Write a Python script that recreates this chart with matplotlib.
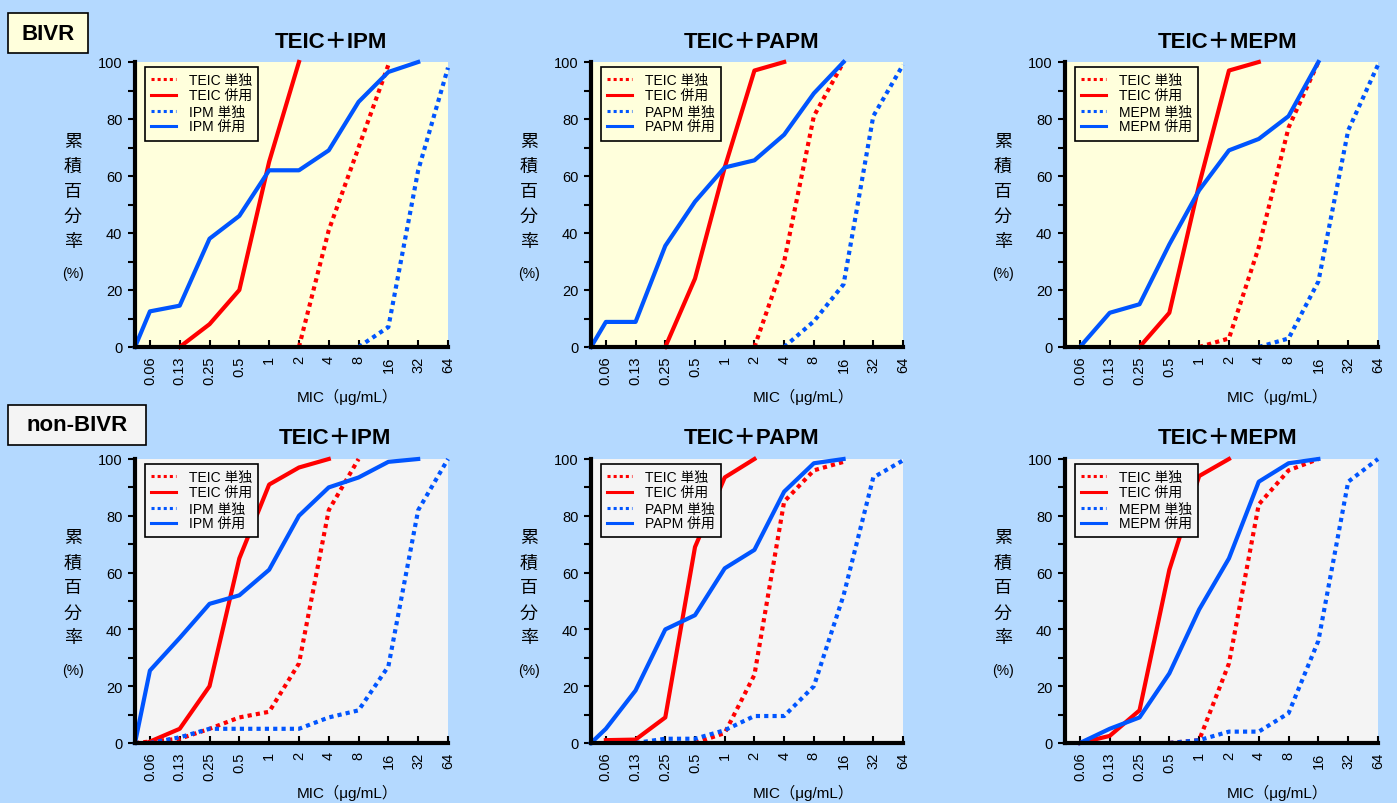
import matplotlib
matplotlib.use("Agg")
import matplotlib.pyplot as plt
from matplotlib.patches import Rectangle
from matplotlib.ticker import MultipleLocator
import numpy as np

plt.rcParams['font.family'] = ['Liberation Sans', 'Noto Sans CJK JP', 'DejaVu Sans']

# x categories: first point is the unlabeled origin, then MIC steps
mic_labels = ['0.06', '0.13', '0.25', '0.5', '1', '2', '4', '8', '16', '32', '64']
_ = None

# --- BIVR ---
bivr_ipm_teic_alone = [_, _, _, _, _, _, 0, 41, 70, 99, _, _]
bivr_ipm_teic_combo = [_, _, 0, 8, 20, 65, 100, _, _, _, _, _]
bivr_ipm_drug_alone = [_, _, _, _, _, _, _, _, 0, 7, 62, 98]
bivr_ipm_drug_combo = [0, 12.5, 14.5, 38, 46, 62, 62, 69, 86, 96.5, 100, _]

bivr_papm_teic_alone = [_, _, _, _, _, _, 0, 30, 81, 100, _, _]
bivr_papm_teic_combo = [_, _, _, 0, 24, 63, 97, 100, _, _, _, _]
bivr_papm_drug_alone = [_, _, _, _, _, _, _, 0, 9, 22, 81, 99]
bivr_papm_drug_combo = [0, 8.8, 8.8, 35.5, 51, 63, 65.5, 74.5, 89, 100, _, _]

bivr_mepm_teic_alone = [_, _, _, _, _, 0, 3, 35, 77, 100, _, _]
bivr_mepm_teic_combo = [_, _, _, 0, 12, 57, 97, 100, _, _, _, _]
bivr_mepm_drug_alone = [_, _, _, _, _, _, _, 0, 3, 23, 76, 99]
bivr_mepm_drug_combo = [_, 0, 12, 15, 36, 55, 69, 73, 81, 100, _, _]

# --- non-BIVR ---
non_ipm_teic_alone = [0, 0.5, 1.5, 5, 9, 11, 28, 82, 100, _, _, _]
non_ipm_teic_combo = [_, 0.5, 5, 20, 65, 91, 97, 100, _, _, _, _]
non_ipm_drug_alone = [_, 0, 2, 5, 5, 5, 5, 9, 11.5, 27, 82, 100]
non_ipm_drug_combo = [0, 25.5, 37, 49, 52, 61, 80, 90, 93.5, 99, 100, _]

non_papm_teic_alone = [_, _, _, _, 0, 3.5, 24, 85, 96, 99, _, _]
non_papm_teic_combo = [_, 1, 1.2, 9, 69, 93.5, 100, _, _, _, _, _]
non_papm_drug_alone = [_, _, 0, 1.5, 1.5, 4.5, 9.5, 9.5, 20, 52, 93.5, 99.5]
non_papm_drug_combo = [0, 5, 18.5, 40, 45, 61.5, 68, 88.5, 98.5, 100, _, _]

non_mepm_teic_alone = [_, _, _, _, 0, 1, 28, 84, 96, 100, _, _]
non_mepm_teic_combo = [_, 0, 2.5, 11.5, 61, 94, 100, _, _, _, _, _]
non_mepm_drug_alone = [_, _, _, _, 0, 1, 4, 4, 10.5, 36, 92, 100]
non_mepm_drug_combo = [_, 0, 5, 9, 24.5, 47, 65, 92, 98.5, 100, _, _]

drugs = ['IPM', 'PAPM', 'MEPM']
titles = ['TEIC＋IPM', 'TEIC＋PAPM', 'TEIC＋MEPM']

panels = [
    [(bivr_ipm_teic_alone, bivr_ipm_teic_combo, bivr_ipm_drug_alone, bivr_ipm_drug_combo),
     (bivr_papm_teic_alone, bivr_papm_teic_combo, bivr_papm_drug_alone, bivr_papm_drug_combo),
     (bivr_mepm_teic_alone, bivr_mepm_teic_combo, bivr_mepm_drug_alone, bivr_mepm_drug_combo)],
    [(non_ipm_teic_alone, non_ipm_teic_combo, non_ipm_drug_alone, non_ipm_drug_combo),
     (non_papm_teic_alone, non_papm_teic_combo, non_papm_drug_alone, non_papm_drug_combo),
     (non_mepm_teic_alone, non_mepm_teic_combo, non_mepm_drug_alone, non_mepm_drug_combo)],
]

W, H = 1397, 804
BG = '#B4D9FF'
PANEL_BG = ['#FFFFDC', '#F4F4F4']
RED = '#FF0000'
BLUE = '#0055FF'
DOT = (0, (1, 1))

fig = plt.figure(figsize=(W / 100, H / 100), dpi=100, facecolor=BG)


def fx(px):
    return px / W


def fy(py):
    return 1 - py / H


# axes boxes in pixels (left, top, right, bottom)
col_x = [(135, 448), (591, 903), (1065, 1378)]
row_y = [(63, 348), (460, 744)]
title_x = [[331, 752, 1228], [335, 752, 1228]]
title_y = [43, 439]

x_pos = np.r_[-0.5, np.arange(len(mic_labels))]

for r in range(2):
    for c in range(3):
        x0, x1 = col_x[c]
        y0, y1 = row_y[r]
        ax = fig.add_axes([fx(x0), fy(y1), (x1 - x0) / W, (y1 - y0) / H])
        ax.set_facecolor(PANEL_BG[r])
        teic_a, teic_c, drug_a, drug_c = [np.array(s, dtype=float) for s in panels[r][c]]
        d = drugs[c]
        ax.plot(x_pos, teic_a, color=RED, lw=3, linestyle=DOT, dash_capstyle='butt',
                label='TEIC 単独', clip_on=False)
        ax.plot(x_pos, teic_c, color=RED, lw=3, label='TEIC 併用', clip_on=False)
        ax.plot(x_pos, drug_a, color=BLUE, lw=3, linestyle=DOT, dash_capstyle='butt',
                label=f'{d} 単独', clip_on=False)
        ax.plot(x_pos, drug_c, color=BLUE, lw=3, label=f'{d} 併用', clip_on=False)

        ax.set_xlim(-0.5, len(mic_labels) - 1)
        ax.set_ylim(0, 100)
        ax.set_xticks(np.arange(len(mic_labels)))
        ax.set_xticklabels(mic_labels, rotation=90, fontsize=10.5)
        ax.yaxis.set_major_locator(MultipleLocator(20))
        ax.yaxis.set_minor_locator(MultipleLocator(10))
        ax.tick_params(axis='y', which='both', direction='out', length=5, width=1.5,
                       labelsize=10.5, pad=4)
        ax.tick_params(axis='x', direction='in', length=5, width=1.5, pad=6)
        for s in ['top', 'right']:
            ax.spines[s].set_visible(False)
        for s in ['left', 'bottom']:
            ax.spines[s].set_linewidth(3)

        leg = ax.legend(loc='upper left', bbox_to_anchor=(10 / 313, 1 - 5 / 285),
                        fontsize=10, frameon=True, fancybox=False, borderaxespad=0,
                        labelspacing=0.12, handlelength=1.8, handletextpad=0.9,
                        borderpad=0.45, facecolor=PANEL_BG[r], framealpha=1,
                        edgecolor='black')
        leg.get_frame().set_linewidth(1.2)
        for ln in leg.get_lines():
            ln.set_linewidth(2.2)

        fig.text(fx(title_x[r][c]), fy(title_y[r]), titles[c], ha='center', va='center',
                 fontsize=16, fontweight='bold')

        # vertical y label
        for k, ch in enumerate('累積百分率'):
            fig.text(fx(x0 - 62), fy(y0 + 79 + 25 * k), ch, ha='center', va='center',
                     fontsize=13)
        fig.text(fx(x0 - 62), fy(y0 + 211), '(%)', ha='center', va='center',
                 fontsize=10)
        fig.text(fx((x0 + x1) / 2 + 56), fy(y1 + 49), 'MIC（μg/mL）', ha='center',
                 va='center', fontsize=11)

# group label boxes
for (bx0, by0, bx1, by1), txt, fc in [((8, 14, 88, 54), 'BIVR', PANEL_BG[0]),
                                       ((8, 406, 146, 446), 'non-BIVR', PANEL_BG[1])]:
    fig.patches.append(Rectangle((fx(bx0), fy(by1)), (bx1 - bx0) / W, (by1 - by0) / H,
                                 transform=fig.transFigure, facecolor=fc,
                                 edgecolor='black', linewidth=1.2))
    fig.text(fx((bx0 + bx1) / 2), fy((by0 + by1) / 2), txt, ha='center', va='center',
             fontsize=16, fontweight='bold')

fig.savefig('out.png', dpi=100, facecolor=BG)
